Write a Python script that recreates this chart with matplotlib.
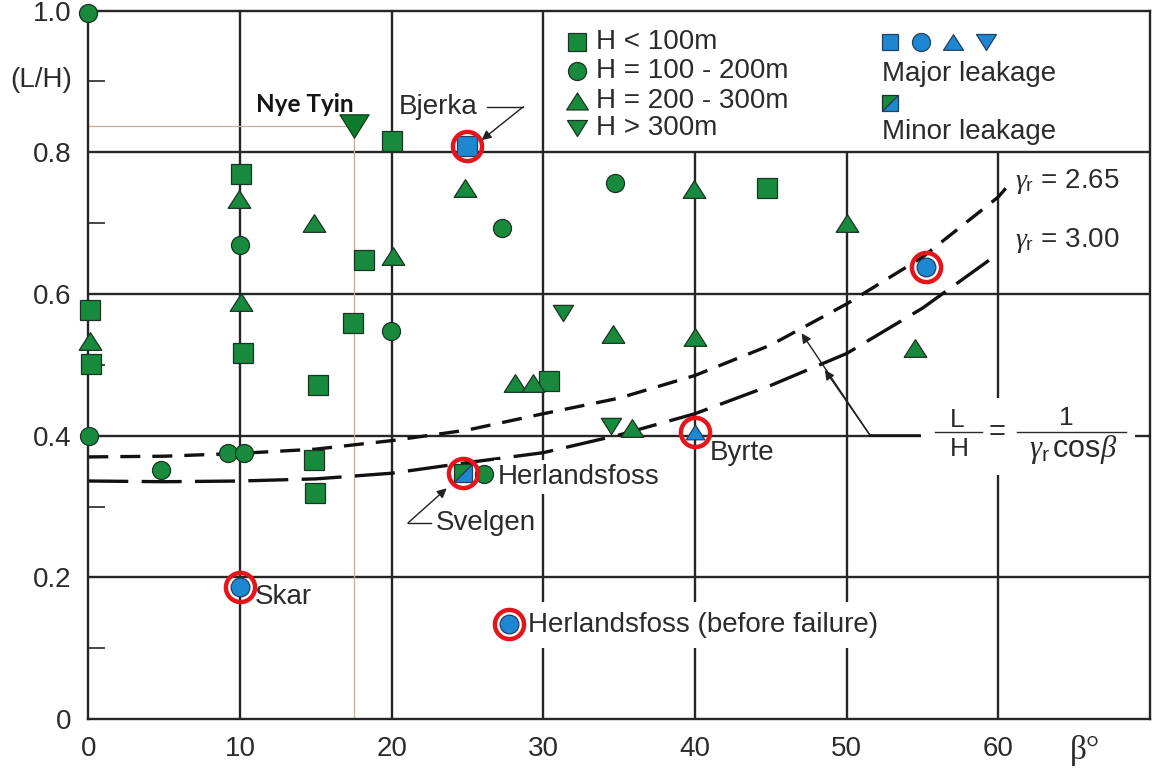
import matplotlib.pyplot as plt
from matplotlib.path import Path
from matplotlib.patches import Rectangle

plt.rcParams['font.family'] = ['Liberation Sans', 'DejaVu Sans']
plt.rcParams['mathtext.fontset'] = 'custom'
plt.rcParams['mathtext.rm'] = 'Liberation Sans'
plt.rcParams['mathtext.it'] = 'Liberation Serif:italic'
plt.rcParams['mathtext.bf'] = 'Liberation Sans:bold'

# ---- data (beta in degrees, L/H) ----
# H < 100m
sq_beta = [0.1, 0.18, 10.05, 10.2, 14.88, 14.97, 15.16, 17.47, 18.2, 20.0, 30.39, 44.72]
sq_lh = [0.578, 0.501, 0.770, 0.516, 0.365, 0.319, 0.4715, 0.559, 0.648, 0.816, 0.4776, 0.749]
# H = 100 - 200m
ci_beta = [0.0, 0.05, 4.79, 9.19, 10.26, 10.0, 19.93, 26.12, 27.25, 34.72]
ci_lh = [0.996, 0.399, 0.3515, 0.375, 0.375, 0.669, 0.548, 0.3465, 0.693, 0.757]
# H = 200 - 300m
tri_beta = [0.1, 9.95, 10.04, 14.88, 20.1, 24.83, 28.16, 29.34, 34.62, 35.85,
            39.93, 40.0, 50.03, 54.5]
tri_lh = [0.534, 0.734, 0.589, 0.700, 0.653, 0.749, 0.4738, 0.4748, 0.544, 0.411,
          0.748, 0.539, 0.700, 0.5233]
# H > 300m
dtri_beta = [31.27, 34.45]
dtri_lh = [0.5736, 0.414]

# leakage cases
major_sq_beta = [24.94]          # Bjerka
major_sq_lh = [0.809]
major_ci_beta = [10.0, 27.76, 55.22]   # Skar, Herlandsfoss (before failure), unnamed
major_ci_lh = [0.187, 0.134, 0.6385]
major_tri_beta = [40.0]          # Byrte
major_tri_lh = [0.405]
minor_beta = [24.7]              # Svelgen
minor_lh = [0.3472]

nye_tyin_beta = 17.55
nye_tyin_lh = 0.837

# theoretical curves L/H = 1/(gamma_r cos beta), as drawn
c265_beta = [0, 5, 10, 15, 20, 25, 30, 35, 40, 45, 50, 55, 60, 60.6]
c265_lh = [0.370, 0.371, 0.375, 0.381, 0.393, 0.408, 0.431, 0.453, 0.485, 0.528,
           0.586, 0.652, 0.737, 0.752]
c300_beta = [0, 5, 10, 15, 20, 25, 30, 35, 40, 45, 50, 55, 60]
c300_lh = [0.336, 0.335, 0.336, 0.339, 0.347, 0.362, 0.376, 0.401, 0.431, 0.471,
           0.516, 0.580, 0.657]

x_ticks = [0, 10, 20, 30, 40, 50, 60]
y_ticks = [0, 0.2, 0.4, 0.6, 0.8, 1.0]
y_tick_labels = ['0', '0.2', '0.4', '0.6', '0.8', '1.0']

# ---- styles ----
GREEN = '#178a3d'
DARK_GREEN = '#0e7a2c'
BLUE = '#1d87d2'
EDGE = '#1b3322'
BLUE_EDGE = '#23405e'
GRID = '#262626'
TXT = '#2b2b2b'
RED = '#e4161b'

up_tri = Path([(-1, -0.78), (1, -0.78), (0, 0.78), (-1, -0.78)], closed=True)
down_tri = Path([(-1, 0.8), (1, 0.8), (0, -0.8), (-1, 0.8)], closed=True)
half_ul = Path([(-1, -1), (-1, 1), (1, 1), (-1, -1)], closed=True)
half_lr = Path([(-1, -1), (1, -1), (1, 1), (-1, -1)], closed=True)


def mark(x, y, marker, ms, fc, ec=EDGE, z=6):
    plt.plot(x, y, linestyle='none', marker=marker, ms=ms, mfc=fc, mec=ec,
             mew=0.9, zorder=z, clip_on=False)


fig = plt.figure(figsize=(11.53, 7.70), dpi=100)
ax = fig.add_axes([0.0766, 0.0662, 0.9208, 0.9200])
ax.set_xlim(0, 70)
ax.set_ylim(0, 1.0)

# grid (the legend panel upper right has no vertical lines)
ax.vlines([10, 20, 30], 0, 1.0, color=GRID, lw=1.7, zorder=1)
ax.vlines([40, 50, 60], 0, 0.8, color=GRID, lw=1.7, zorder=1)
ax.hlines([0.2, 0.4, 0.6, 0.8], 0, 70, color=GRID, lw=1.7, zorder=1)
for s in ax.spines.values():
    s.set_color(GRID)
    s.set_linewidth(1.7)

ax.set_xticks(x_ticks)
ax.set_xticklabels([str(v) for v in x_ticks])
ax.set_yticks(y_ticks)
ax.set_yticklabels(y_tick_labels)
ax.set_yticks([0.1, 0.3, 0.5, 0.7, 0.9], minor=True)
ax.tick_params(which='major', length=0, labelsize=20, pad=12, labelcolor=TXT)
ax.tick_params(which='minor', axis='y', direction='in', length=12, width=1.2,
               color=GRID)
ax.tick_params(which='minor', axis='x', length=0)

ax.text(-3.1, 0.902, '(L/H)', fontsize=20, color=TXT, ha='center', va='center',
        clip_on=False)
ax.text(65.7, -0.045, 'β°', fontsize=24, color=TXT, family='Liberation Serif',
        ha='center', va='center', clip_on=False)

# Nye Tyin guide lines
ax.plot([0, nye_tyin_beta], [nye_tyin_lh, nye_tyin_lh], color='#c9ab97', lw=0.9, zorder=1.5)
ax.plot([nye_tyin_beta, nye_tyin_beta], [0, nye_tyin_lh], color='#c9ab97', lw=0.9, zorder=1.5)

# curves
ax.plot(c265_beta, c265_lh, color='#111111', lw=2.4, dashes=(6, 3.6), zorder=2)
ax.plot(c300_beta, c300_lh, color='#111111', lw=2.4, dashes=(12, 4), zorder=2)

# data points
mark(sq_beta, sq_lh, 's', 13.7, GREEN)
mark(ci_beta, ci_lh, 'o', 13, GREEN)
mark(tri_beta, tri_lh, up_tri, 16.3, GREEN)
mark(dtri_beta, dtri_lh, down_tri, 14.6, GREEN)
mark(major_sq_beta, major_sq_lh, 's', 13.7, BLUE, BLUE_EDGE)
mark(major_ci_beta, major_ci_lh, 'o', 13.5, BLUE, BLUE_EDGE)
mark(major_tri_beta, major_tri_lh, up_tri, 13.5, BLUE, BLUE_EDGE)
mark(minor_beta, minor_lh, half_ul, 13.2, GREEN)
mark(minor_beta, minor_lh, half_lr, 13.2, BLUE, BLUE_EDGE)
mark([nye_tyin_beta], [nye_tyin_lh], down_tri, 21, DARK_GREEN, '#0b3d18')

ring_beta = major_sq_beta + major_ci_beta + major_tri_beta + minor_beta
ring_lh = major_sq_lh + major_ci_lh + major_tri_lh + minor_lh
ax.plot(ring_beta, ring_lh, linestyle='none', marker='o', ms=21, mfc='none',
        mec=RED, mew=3.2, zorder=7)

# labels
lab = dict(fontsize=20, color=TXT, va='center', ha='left', zorder=4)
wbox = dict(facecolor='white', edgecolor='none', pad=3)
ax.text(20.5, 0.8643, 'Bjerka', **lab)
ax.text(10.95, 0.1727, 'Skar', **lab)
ax.text(40.95, 0.375, 'Byrte', **lab)
ax.text(27.0, 0.342, 'Herlandsfoss', bbox=wbox, **lab)
ax.text(29.0, 0.1327, 'Herlandsfoss (before failure)', bbox=dict(wbox, pad=7), **lab)
ax.text(22.9, 0.2767, 'Svelgen', **lab)
ax.text(17.5, 0.867, 'Nye Tyin', fontsize=17.5, fontweight='bold', family='Lato',
        color='#151515', ha='right', va='center', zorder=4)

arr = dict(arrowstyle='-|>', color='#222222', lw=1.0, mutation_scale=14,
           shrinkA=0, shrinkB=0)
# Bjerka leader
ax.plot([26.26, 28.68], [0.8643, 0.8643], color='#222222', lw=1.0, zorder=4)
ax.annotate('', xy=(25.93, 0.8173), xytext=(28.68, 0.8643), arrowprops=arr, zorder=4)
# Svelgen leader
ax.plot([21.07, 22.6], [0.2767, 0.2767], color='#222222', lw=1.0, zorder=4)
ax.annotate('', xy=(23.63, 0.3257), xytext=(21.07, 0.2767), arrowprops=arr, zorder=4)

# formula panel
ax.add_patch(Rectangle((54.9, 0.344), 14.1, 0.109, facecolor='white',
                       edgecolor='none', zorder=3))
ax.plot([51.53, 54.8], [0.4009, 0.4009], color='#111111', lw=1.8, zorder=4)
ax.annotate('', xy=(47.03, 0.5445), xytext=(51.53, 0.4009), arrowprops=arr, zorder=4)
ax.annotate('', xy=(48.56, 0.4927), xytext=(51.53, 0.4009), arrowprops=arr, zorder=4)
ftxt = dict(fontsize=19, color=TXT, ha='center', va='center', zorder=5)
ax.text(57.3, 0.4215, 'L', **ftxt)
ax.text(57.4, 0.3815, 'H', **ftxt)
ax.plot([55.85, 58.9], [0.4056, 0.4056], color=TXT, lw=1.0, zorder=5)
ax.text(59.92, 0.4056, '=', fontsize=21, color=TXT, ha='center', va='center', zorder=5)
ax.plot([61.2, 68.45], [0.4056, 0.4056], color=TXT, lw=1.0, zorder=5)
ax.text(64.5, 0.4245, '1', **ftxt)
ax.text(64.9, 0.380, r'$\gamma_\mathrm{r}\,\mathrm{cos}\beta$', fontsize=22,
        color=TXT, ha='center', va='center', zorder=5)

ax.text(61.1, 0.7585, r'$\gamma_\mathrm{r}$ = 2.65', **lab)
ax.text(61.1, 0.676, r'$\gamma_\mathrm{r}$ = 3.00', **lab)

# legend panel
leg_y = [0.956, 0.9145, 0.873, 0.834]
leg_txt = ['H < 100m', 'H = 100 - 200m', 'H = 200 - 300m', 'H > 300m']
mark([32.2], [leg_y[0]], 's', 13, GREEN)
mark([32.2], [leg_y[1]], 'o', 13, GREEN)
mark([32.2], [leg_y[2]], up_tri, 15.6, GREEN)
mark([32.2], [leg_y[3]], down_tri, 14.4, GREEN)
for yy, tt in zip(leg_y, leg_txt):
    ax.text(33.5, yy, tt, **lab)

mark([52.84], [0.956], 's', 12, BLUE, BLUE_EDGE)
mark([54.9], [0.956], 'o', 13, BLUE, BLUE_EDGE)
mark([57.0], [0.956], up_tri, 14.4, BLUE, BLUE_EDGE)
mark([59.2], [0.956], down_tri, 14.4, BLUE, BLUE_EDGE)
ax.text(52.3, 0.9105, 'Major leakage', **lab)
mark([52.84], [0.869], half_ul, 12, GREEN)
mark([52.84], [0.869], half_lr, 12, BLUE, BLUE_EDGE)
ax.text(52.3, 0.829, 'Minor leakage', **lab)

plt.savefig('out.png', dpi=100)
